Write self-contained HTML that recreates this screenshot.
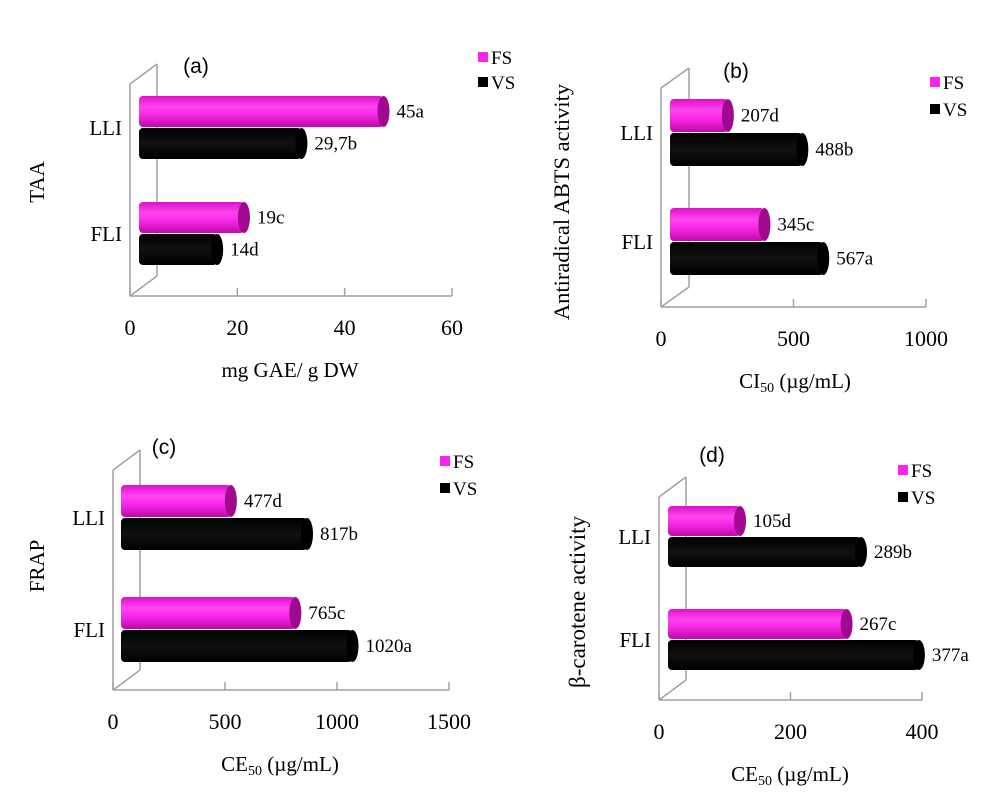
<!DOCTYPE html>
<html><head><meta charset="utf-8"><style>
html,body{margin:0;padding:0;background:#fff;}
svg{display:block;font-family:"Liberation Serif",serif;}
</style></head><body>
<svg id="chart" width="1004" height="797" viewBox="0 0 1004 797" xmlns="http://www.w3.org/2000/svg">
<defs>
<linearGradient id="pinkG" x1="0" y1="0" x2="0" y2="1">
<stop offset="0" stop-color="#e010c8"/><stop offset="0.35" stop-color="#ff44f0"/><stop offset="0.6" stop-color="#f828e8"/><stop offset="1" stop-color="#c008a8"/>
</linearGradient>
<linearGradient id="blackG" x1="0" y1="0" x2="0" y2="1">
<stop offset="0" stop-color="#000"/><stop offset="0.5" stop-color="#111"/><stop offset="1" stop-color="#000"/>
</linearGradient>
</defs>
</svg>
<script>
const categories = ["LLI", "FLI"];
const seriesNames = ["FS", "VS"];
const aFS = [45, 19];
const aVS = [29.7, 14];
const aLabelsFS = ["45a", "19c"];
const aLabelsVS = ["29,7b", "14d"];
const aTicks = [0, 20, 40, 60];
const bFS = [207, 345];
const bVS = [488, 567];
const bLabelsFS = ["207d", "345c"];
const bLabelsVS = ["488b", "567a"];
const bTicks = [0, 500, 1000];
const cFS = [477, 765];
const cVS = [817, 1020];
const cLabelsFS = ["477d", "765c"];
const cLabelsVS = ["817b", "1020a"];
const cTicks = [0, 500, 1000, 1500];
const dFS = [105, 267];
const dVS = [289, 377];
const dLabelsFS = ["105d", "267c"];
const dLabelsVS = ["289b", "377a"];
const dTicks = [0, 200, 400];

const svg = document.getElementById('chart');
const NS = 'http://www.w3.org/2000/svg';
function mk(tag, attrs, parent, text) {
  const e = document.createElementNS(NS, tag);
  for (const k in attrs) e.setAttribute(k, attrs[k]);
  if (text !== undefined) e.textContent = text;
  (parent || svg).appendChild(e);
  return e;
}

function panel(p) {
  const g = mk('g', {});
  
  
  const max = p.ticks[p.ticks.length - 1];
  const xs = v => p.x0 + (v / max) * (p.x1 - p.x0);
  const wall = mk('g', {stroke: '#a0a0a0', 'stroke-width': 1.5, fill: 'none'}, g);
  
  
  mk('line', {x1: p.x0, y1: p.frontTop, x2: p.x0, y2: p.base}, wall);
  mk('line', {x1: p.back, y1: p.frontTop - 20, x2: p.back, y2: p.base - 20}, wall);
  mk('line', {x1: p.x0, y1: p.frontTop, x2: p.back, y2: p.frontTop - 20}, wall);
  mk('line', {x1: p.x0, y1: p.base, x2: p.back, y2: p.base - 20}, wall);
  const ax = mk('g', {}, g);
  
  
  mk('line', {x1: p.x0, y1: p.base, x2: p.x1, y2: p.base, stroke: '#a0a0a0', 'stroke-width': 1.5}, ax);
  p.ticks.forEach(t => {
    mk('line', {x1: xs(t), y1: p.base - 8, x2: xs(t), y2: p.base, stroke: '#a0a0a0', 'stroke-width': 1.5}, ax);
    const tl = mk('text', {x: xs(t), y: p.base + 39, 'text-anchor': 'middle', 'font-size': 22, fill: '#000'}, ax, String(t));
    
    
  });
  const xt = mk('text', {x: p.xTitleX, y: p.base + 81, 'text-anchor': 'middle', 'font-size': 21, fill: '#000'}, g);
  
  
  if (p.sub) {
    mk('tspan', {}, xt, p.xTitle[0]);
    mk('tspan', {'font-size': 14, dy: 4}, xt, p.sub);
    mk('tspan', {dy: -4}, xt, p.xTitle[1]);
  } else xt.textContent = p.xTitle[0];
  const yt = mk('text', {x: 0, y: 0, 'text-anchor': 'middle', 'font-size': p.yFont || 21, fill: '#000', transform: `translate(${p.yTitleX},${p.yTitleY}) rotate(-90)`}, g, p.yTitle);
  
  
  const pl = mk('text', {x: p.labX, y: p.labY, 'text-anchor': 'middle', 'font-size': 21, 'font-family': 'Liberation Sans, sans-serif', fill: '#000'}, g, '(' + p.id + ')');
  
  
  [['FS', 0], ['VS', 1]].forEach(([n, i]) => {
    const lg = mk('g', {}, g);
    
    
    mk('rect', {x: p.legX, y: p.legY + i * p.legGap - 5, width: 10, height: 10, fill: i ? '#000' : '#ff22ee'}, lg);
    mk('text', {x: p.legX + 13, y: p.legY + i * p.legGap + 7, 'font-size': 19, fill: '#000'}, lg, n);
  });
  const sets = [[p.fs, p.lfs, 'url(#pinkG)', '#a00890', 'fs'], [p.vs, p.lvs, 'url(#blackG)', '#000', 'vs']];
  categories.forEach((cat, ci) => {
    const cl = mk('text', {x: p.x0 - 8, y: p.catY[ci] + 7, 'text-anchor': 'end', 'font-size': 21, fill: '#000'}, g, cat);
    
    
    sets.forEach(([vals, labs, fill, cap, nm], si) => {
      const top = p.catY[ci] - p.barH + si * p.barH + (si ? 1 : 0) - 1;
      const h = p.barH;
      const xs0 = p.barStart;
      const xe = xs0 + (vals[ci] / max) * (p.x1 - p.x0) + 3;
      const bg = mk('g', {}, g);
      
      
      mk('rect', {x: xs0, y: top, width: xe - xs0, height: h, rx: 4, fill: fill}, bg);
      mk('ellipse', {cx: xe, cy: top + h / 2, rx: 6, ry: h / 2, fill: cap}, bg);
      const vl = mk('text', {x: xe + 13, y: top + h / 2 + 6, 'font-size': 19, fill: '#000'}, bg, labs[ci]);
      
      
    });
  });
}

panel({id: 'a', x0: 130, x1: 452, back: 157, base: 296, frontTop: 84, barStart: 139, barH: 31,
  catY: [128, 234], ticks: aTicks, fs: aFS, vs: aVS, lfs: aLabelsFS, lvs: aLabelsVS,
  xTitle: ['mg GAE/ g DW'], xTitleX: 290, yTitle: 'TAA', yTitleX: 44, yTitleY: 182,
  labX: 196, labY: 73, legX: 478, legY: 57, legGap: 25});
panel({id: 'b', x0: 661, x1: 926, back: 689, base: 307, frontTop: 88, barStart: 670, barH: 33,
  catY: [133, 242], ticks: bTicks, fs: bFS, vs: bVS, lfs: bLabelsFS, lvs: bLabelsVS,
  xTitle: ['CI', ' (µg/mL)'], sub: '50', xTitleX: 795, yTitle: 'Antiradical ABTS activity', yTitleX: 569, yTitleY: 202, yFont: 22.5,
  labX: 736, labY: 78, legX: 930, legY: 82, legGap: 27});
panel({id: 'c', x0: 113, x1: 449, back: 140, base: 690, frontTop: 470, barStart: 121, barH: 32,
  catY: [518, 630], ticks: cTicks, fs: cFS, vs: cVS, lfs: cLabelsFS, lvs: cLabelsVS,
  xTitle: ['CE', ' (µg/mL)'], sub: '50', xTitleX: 280, yTitle: 'FRAP', yTitleX: 44, yTitleY: 566,
  labX: 164, labY: 454, legX: 440, legY: 461, legGap: 27});
panel({id: 'd', x0: 659, x1: 922, back: 686, base: 700, frontTop: 497, barStart: 668, barH: 30,
  catY: [537, 640], ticks: dTicks, fs: dFS, vs: dVS, lfs: dLabelsFS, lvs: dLabelsVS,
  xTitle: ['CE', ' (µg/mL)'], sub: '50', xTitleX: 790, yTitle: 'β-carotene activity', yTitleX: 585, yTitleY: 602, yFont: 23,
  labX: 712, labY: 462, legX: 898, legY: 470, legGap: 27});
</script>
</body></html>
